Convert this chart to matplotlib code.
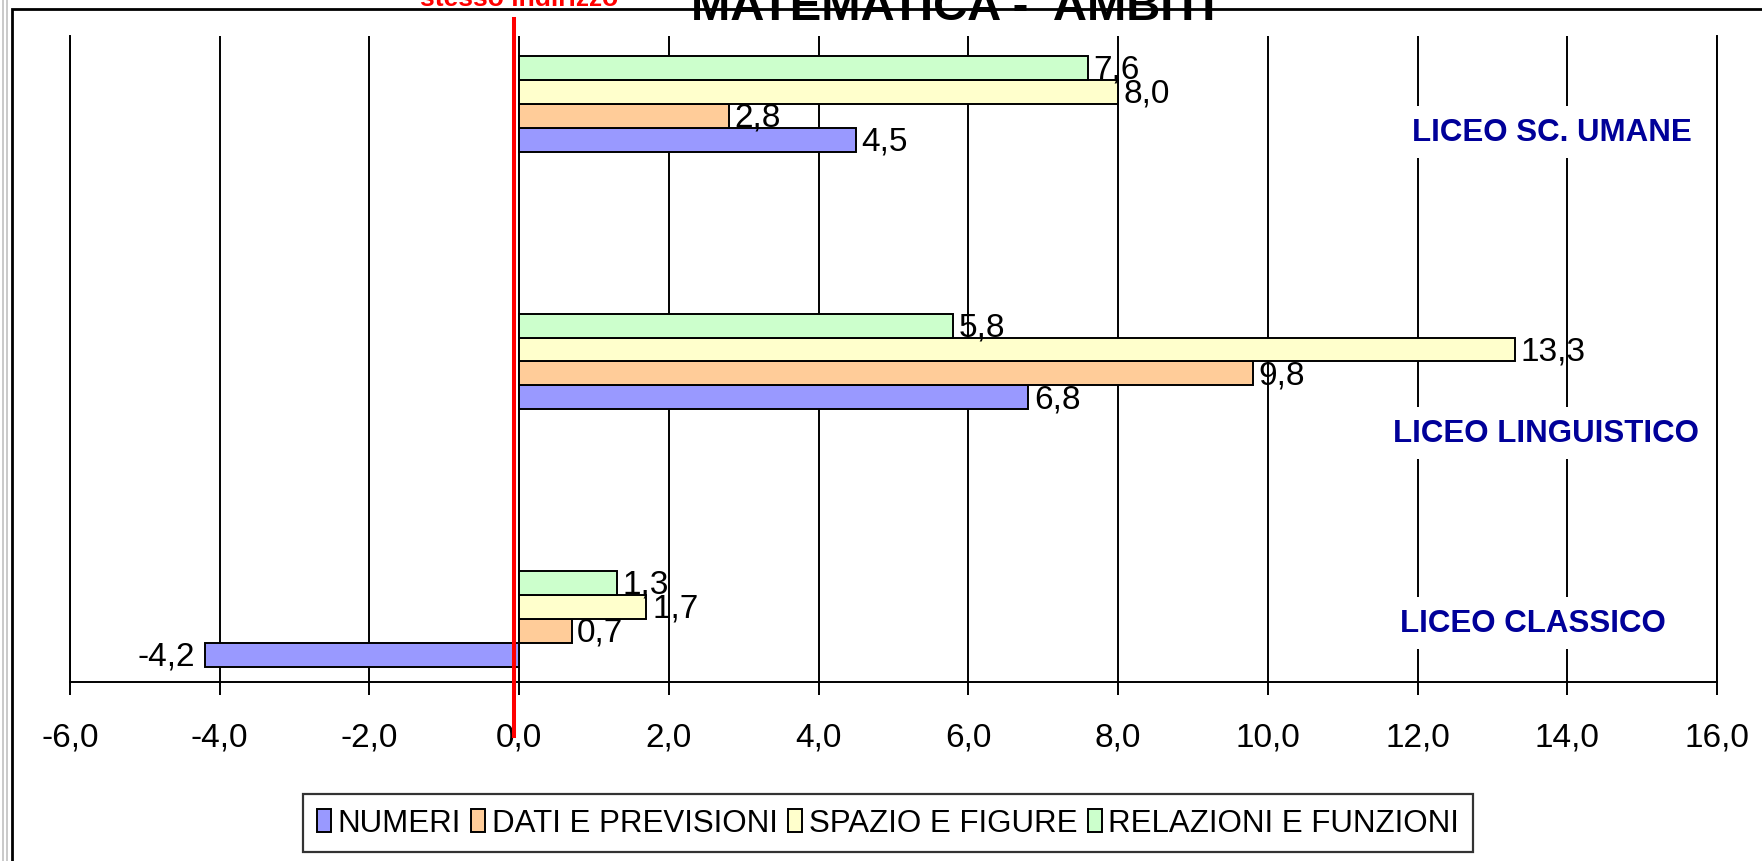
import matplotlib
matplotlib.use('Agg')
import matplotlib.pyplot as plt
from matplotlib.patches import Rectangle
from matplotlib.lines import Line2D
import numpy as np

plt.rcParams['font.family'] = ['Liberation Sans', 'DejaVu Sans']

# data (categories from bottom to top)
categories = ['LICEO CLASSICO', 'LICEO LINGUISTICO', 'LICEO SC. UMANE']
series = ['NUMERI', 'DATI E PREVISIONI', 'SPAZIO E FIGURE', 'RELAZIONI E FUNZIONI']
numeri = [-4.2, 6.8, 4.5]
dati = [0.7, 9.8, 2.8]
spazio = [1.7, 13.3, 8.0]
relazioni = [1.3, 5.8, 7.6]
colors = ['#9999FF', '#FFCC99', '#FFFFCC', '#CCFFCC']
xticks = np.arange(-6, 17, 2)

W, H = 1762, 862
fig = plt.figure(figsize=(W / 100, H / 100), dpi=100)
fig.patch.set_facecolor('white')

ax = fig.add_axes([70 / W, (H - 683) / H, (1717 - 70) / W, (683 - 37) / H])

y = np.arange(len(categories))
h = 0.093
datas = (numeri, dati, spazio, relazioni)
for i, (data, color, name) in enumerate(zip(datas, colors, series)):
    pos = y + (i - 1.5) * h
    ax.barh(pos, data, height=h, color=color, edgecolor='black', linewidth=1.4,
            label=name, zorder=3)
    for p, v in zip(pos, data):
        txt = f"{v:.1f}".replace('.', ',')
        if v >= 0:
            ax.annotate(txt, (v, p), xytext=(4, -1), textcoords='offset points',
                        ha='left', va='center', fontsize=24, zorder=5)
        else:
            ax.annotate(txt, (v, p), xytext=(-7, -1), textcoords='offset points',
                        ha='right', va='center', fontsize=24, zorder=5)

ax.set_xlim(-6, 16)
ax.set_ylim(-0.245, 2.264)
ax.set_xticks(xticks)
ax.set_xticklabels([f"{t:.1f}".replace('.', ',') for t in xticks], fontsize=24)
ax.set_yticks([])
ax.tick_params(axis='x', direction='out', length=9.5, width=1.4, pad=19)
ax.grid(axis='x', color='black', linewidth=1.4, zorder=1)
ax.set_axisbelow(True)
ax.spines['top'].set_visible(False)
for s in ('left', 'right', 'bottom'):
    ax.spines[s].set_linewidth(1.4)

# category labels with white boxes
label_pos = [(13.54, -0.016), (13.71, 0.722), (13.80, 1.891)]
for name, (lx, ly) in zip(categories, label_pos):
    ax.text(lx, ly, name, ha='center', va='center', fontsize=22.5, fontweight='bold',
            color='#000099', zorder=2,
            bbox=dict(facecolor='white', edgecolor='none', pad=8))

# red reference line near zero
ax.plot([-0.065, -0.065], [1.026, -0.0836], color='red', linewidth=2.9,
        transform=ax.get_xaxis_transform(), clip_on=False, zorder=6)

# legend
leg = fig.legend(loc='center', bbox_to_anchor=(888 / W, 38 / H), ncol=4,
                 fontsize=22.5, frameon=True, fancybox=False, shadow=False,
                 handlelength=0.45, handleheight=0.75, handletextpad=0.2,
                 columnspacing=0.35, borderpad=0.45, borderaxespad=0)
leg.get_frame().set_edgecolor('black')
leg.get_frame().set_linewidth(1.6)

# titles (clipped at the top, as in the reference)
fig.text(953 / W, 1 - 20 / H, 'MATEMATICA -  AMBITI', ha='center', va='baseline',
         fontsize=34, fontweight='bold')
fig.text(519 / W, 1 - 6 / H, 'stesso indirizzo', ha='center', va='baseline',
         fontsize=19, fontweight='bold', color='red')

# outer frame
fig.add_artist(Rectangle((12 / W, -0.05), 1.1, 1 - 10 / H + 0.05, transform=fig.transFigure,
                         facecolor='none', edgecolor='black', linewidth=2))
for gx in (3, 6.5):
    fig.add_artist(Line2D([gx / W, gx / W], [0, 1], transform=fig.transFigure,
                          color='#c0c0c0', linewidth=1.2))

fig.savefig('out.png', dpi=100)
